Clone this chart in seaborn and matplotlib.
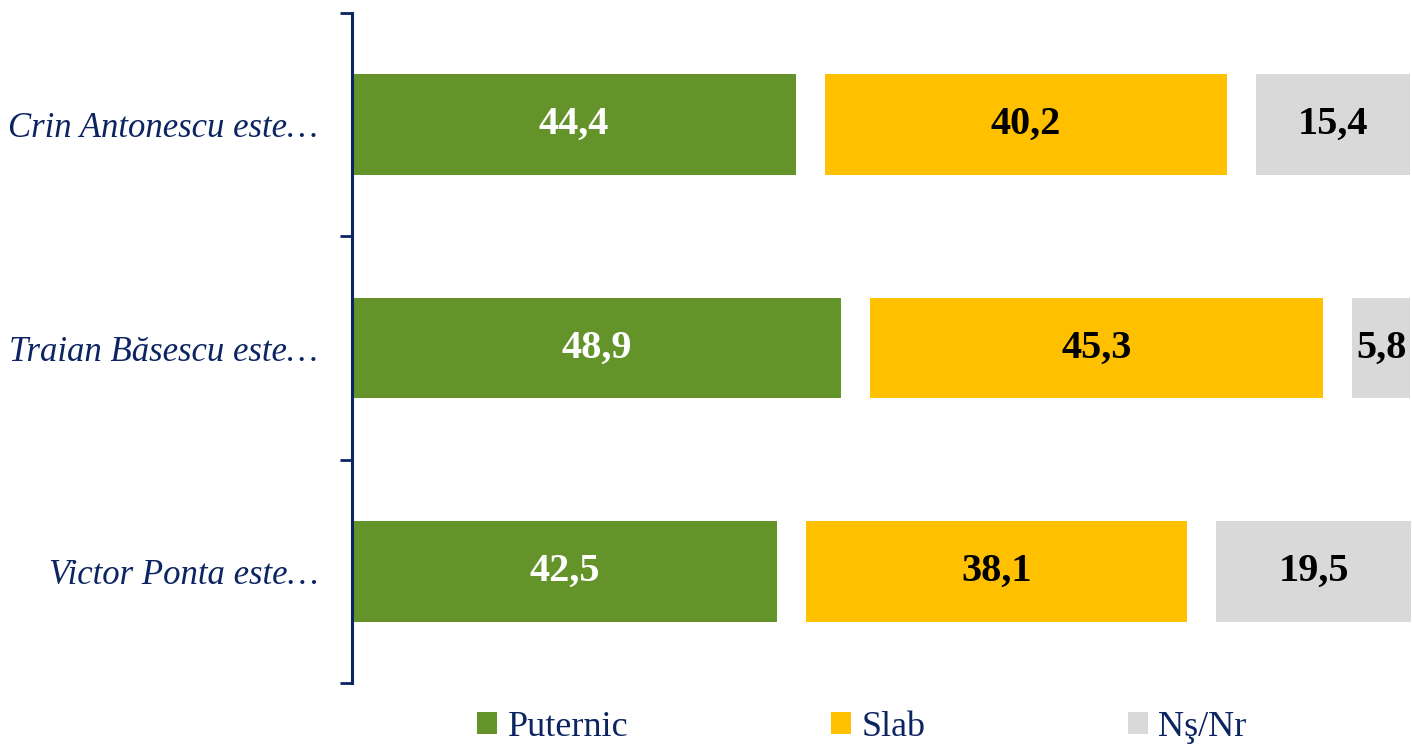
import seaborn as sns
import matplotlib.pyplot as plt
import pandas as pd
from matplotlib.patches import Patch

#==========================================data===========================================#
categories = ['Crin Antonescu este…', 'Traian Băsescu este…', 'Victor Ponta este…']
puternic = [44.4, 48.9, 42.5]
slab = [40.2, 45.3, 38.1]
nsnr = [15.4, 5.8, 19.5]
series = ['Puternic', 'Slab', 'Nş/Nr']

colors = ['#639329', '#FFC000', '#D9D9D9']
text_colors = ['white', 'black', 'black']
navy = '#0C2461'
gap = 2.9  # white space between the segments (data units)

df = pd.DataFrame({'cat': categories, 'Puternic': puternic, 'Slab': slab, 'Nş/Nr': nsnr})
df['end_p'] = df['Puternic']
df['start_s'] = df['end_p'] + gap
df['end_s'] = df['start_s'] + df['Slab']
df['start_n'] = df['end_s'] + gap
df['end_n'] = df['start_n'] + df['Nş/Nr']

sns.set_style('white')
plt.rcParams['font.family'] = ['Liberation Serif', 'DejaVu Serif']

fig = plt.figure(figsize=(14.12, 7.47), dpi=100)
ax = fig.add_axes([352/1412, 64/747, 1060/1412, 670/747])

# draw back to front, every bar starts at 0 and the white ones make the gaps
layers = [('end_n', colors[2]), ('start_n', 'white'), ('end_s', colors[1]),
          ('start_s', 'white'), ('end_p', colors[0])]
for col, c in layers:
    sns.barplot(data=df, x=col, y='cat', orient='y', color=c, saturation=1,
                width=0.45, linewidth=0, ax=ax)

starts = [[0]*3, df['start_s'].tolist(), df['start_n'].tolist()]
vals = [puternic, slab, nsnr]
for k in range(3):
    for i in range(3):
        ax.text(starts[k][i] + vals[k][i]/2, i, f'{vals[k][i]:.1f}'.replace('.', ','),
                ha='center', va='center', fontsize=29, fontweight='bold',
                color=text_colors[k])

ax.set_xlim(0, 106)
ax.set_ylim(2.5, -0.5)
ax.set_xlabel('')
ax.set_ylabel('')
ax.set_xticks([])
for s in ['top', 'right', 'bottom']:
    ax.spines[s].set_visible(False)
ax.spines['left'].set_color(navy)
ax.spines['left'].set_linewidth(2.2)

ax.set_yticks([0, 1, 2])
ax.set_yticklabels(categories, fontsize=25, style='italic', color=navy)
ax.set_yticks([-0.5, 0.5, 1.5, 2.5], minor=True)
ax.tick_params(axis='y', which='major', length=0, pad=24.5)
ax.tick_params(axis='y', which='minor', left=True, length=8.6, width=2, color=navy)

handles = [Patch(facecolor=c, edgecolor='none') for c in colors]
fig.legend(handles, series, loc='center', bbox_to_anchor=(862/1412, 1-727/747),
           ncol=3, frameon=False, fontsize=26, labelcolor=navy,
           handlelength=0.55, handleheight=0.55, handletextpad=0.3, columnspacing=5.6)

fig.savefig('out.png', dpi=100)
